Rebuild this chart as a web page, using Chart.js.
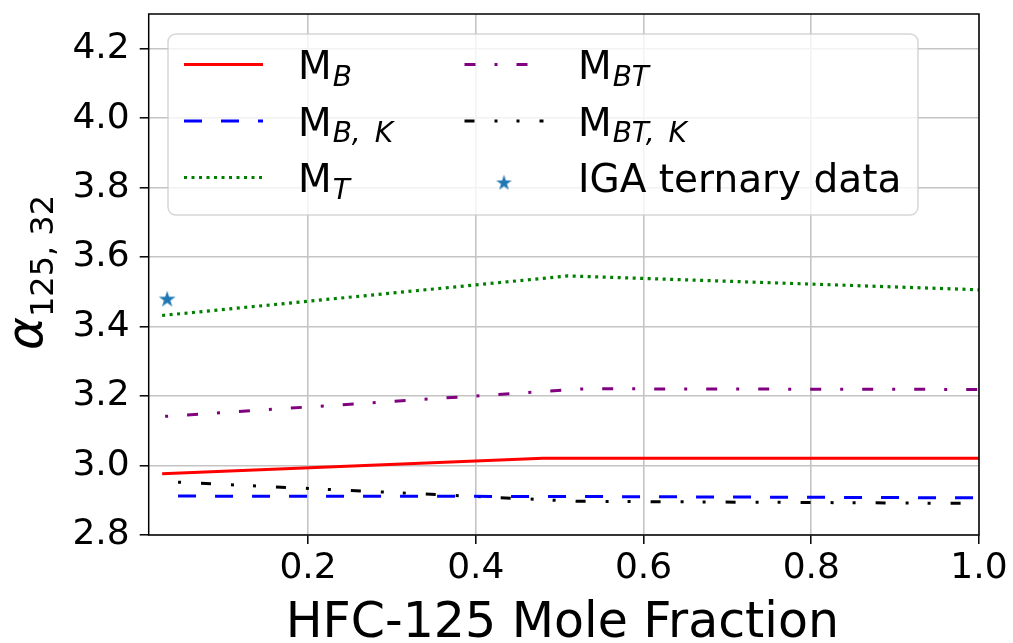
<!DOCTYPE html>
<html>
<head>
<meta charset="utf-8">
<script src="https://cdn.jsdelivr.net/npm/chart.js@4.4.0/dist/chart.umd.min.js"></script>
<style>
  body { margin: 0; background: #fff; }
  #wrap { width: 1013px; height: 643px; }
</style>
</head>
<body>
<div id="wrap"><canvas id="chart" width="1013" height="643"></canvas></div>
<script>
// values
const mbX = [0.026, 0.48, 1.0];
const mbY = [2.976, 3.021, 3.021];
const mbkX = [0.045, 0.50, 1.0];
const mbkY = [2.912, 2.911, 2.907];
const mtX = [0.026, 0.51, 1.0];
const mtY = [3.432, 3.546, 3.506];
const mbtX = [0.026, 0.53, 1.0];
const mbtY = [3.141, 3.221, 3.219];
const mbtkX = [0.045, 0.52, 1.0];
const mbtkY = [2.952, 2.897, 2.891];
const igaX = [0.032];
const igaY = [3.478];

const xTicks = [0.2, 0.4, 0.6, 0.8, 1.0];
const yTicks = [2.8, 3.0, 3.2, 3.4, 3.6, 3.8, 4.0, 4.2];

const FONT = '"DejaVu Sans", sans-serif';
Chart.defaults.font.family = FONT;

const pts = (xs, ys) => xs.map((x, i) => ({ x: x, y: ys[i] }));

function starImage(r, color) {
  const s = Math.ceil(r * 2 + 2);
  const c = document.createElement('canvas');
  c.width = s; c.height = s;
  const g = c.getContext('2d');
  g.fillStyle = color;
  g.beginPath();
  for (let i = 0; i < 10; i++) {
    const rad = i % 2 === 0 ? r : r * 0.382;
    const a = -Math.PI / 2 + i * Math.PI / 5;
    const px = s / 2 + rad * Math.cos(a), py = s / 2 + rad * Math.sin(a);
    if (i) g.lineTo(px, py); else g.moveTo(px, py);
  }
  g.closePath();
  g.fill();
  return c;
}

// sub = subscript pieces (split at the comma so the math spacing can be widened)
const series = [
  { sub: ['B'], color: '#ff0000', dash: [], offset: 0, width: 3, data: pts(mbX, mbY) },
  { sub: ['B,', 'K'], color: '#0000ff', dash: [18, 19], offset: 0, width: 3, data: pts(mbkX, mbkY) },
  { sub: ['T'], color: '#008000', dash: [3, 4.5], offset: 0, width: 3.2, data: pts(mtX, mtY) },
  { sub: ['BT'], color: '#800080', dash: [11, 19, 3, 19], offset: 27, width: 3, data: pts(mbtX, mbtY) },
  { sub: ['BT,', 'K'], color: '#000000', dash: [10, 20, 3, 19, 3, 20], offset: 52, width: 3, data: pts(mbtkX, mbtkY) },
];

const datasets = series.map(s => ({
  label: 'M_' + s.sub.join(' '),
  data: s.data,
  borderColor: s.color,
  borderWidth: s.width,
  borderDash: s.dash,
  borderDashOffset: s.offset,
  borderCapStyle: 'butt',
  pointRadius: 0,
  tension: 0,
  fill: false
}));
datasets.push({
  label: 'IGA ternary data',
  data: pts(igaX, igaY),
  showLine: false,
  pointStyle: starImage(8.8, '#1f77b4'),
  pointRadius: 9,
  borderWidth: 0
});

const decor = {
  id: 'decor',
  afterDatasetsDraw(chart) {
    const ctx = chart.ctx;
    const a = chart.chartArea;
    ctx.save();
    // spines
    ctx.strokeStyle = '#000';
    ctx.lineWidth = 1.5;
    ctx.setLineDash([]);
    ctx.strokeRect(a.left, a.top, a.right - a.left, a.bottom - a.top);

    // legend box
    ctx.beginPath();
    ctx.roundRect(168, 34, 750, 181, 8);
    ctx.fillStyle = 'rgba(255,255,255,0.8)';
    ctx.fill();
    ctx.strokeStyle = 'rgba(204,204,204,0.8)';
    ctx.lineWidth = 1.5;
    ctx.stroke();

    const rows = [64.5, 121, 177.5];
    const cols = [{ line: 184, text: 298 }, { line: 464.5, text: 578 }];
    series.forEach((s, i) => {
      const col = cols[i < 3 ? 0 : 1];
      const y = rows[i < 3 ? i : i - 3];
      ctx.beginPath();
      ctx.setLineDash(s.dash);
      ctx.lineDashOffset = 0;
      ctx.lineCap = 'butt';
      ctx.strokeStyle = s.color;
      ctx.lineWidth = s.width;
      ctx.moveTo(col.line, y);
      ctx.lineTo(col.line + 79, y);
      ctx.stroke();
      ctx.setLineDash([]);
      ctx.fillStyle = '#000';
      ctx.textBaseline = 'alphabetic';
      ctx.textAlign = 'left';
      ctx.font = '39px ' + FONT;
      ctx.fillText('M', col.text, y + 14.5);
      let x = col.text + ctx.measureText('M').width + 1;
      ctx.font = 'italic 28px ' + FONT;
      s.sub.forEach((piece, k) => {
        ctx.fillText(piece, x, y + 21);
        x += ctx.measureText(piece).width + (k < s.sub.length - 1 ? 14 : 0);
      });
    });
    const star = starImage(8.2, '#1f77b4');
    ctx.drawImage(star, 504 - star.width / 2, 183 - star.height / 2);
    ctx.font = '39px ' + FONT;
    ctx.fillStyle = '#000';
    ctx.fillText('IGA ternary data', 578, 192);

    // x axis title
    ctx.textAlign = 'center';
    ctx.font = '49px ' + FONT;
    ctx.fillText('HFC-125 Mole Fraction', (a.left + a.right) / 2 - 1.5, 637);

    // y axis title: alpha with subscript, rotated
    ctx.translate(42, (a.top + a.bottom) / 2 - 2);
    ctx.rotate(-Math.PI / 2);
    ctx.textAlign = 'left';
    ctx.font = 'italic 50px ' + FONT;
    const wA = ctx.measureText('α').width;
    ctx.font = '32px ' + FONT;
    const wS = ctx.measureText('125, 32').width;
    const x0 = -(wA + wS) / 2;
    ctx.font = 'italic 50px ' + FONT;
    ctx.fillText('α', x0, 0);
    ctx.font = '32px ' + FONT;
    ctx.fillText('125, 32', x0 + wA, 11);
    ctx.restore();
  }
};

const gridCfg = {
  color: '#c4c4c4',
  lineWidth: 1.6,
  drawTicks: true,
  tickLength: 9,
  tickColor: '#000',
  tickWidth: 1.5
};

new Chart(document.getElementById('chart'), {
  type: 'line',
  data: { datasets: datasets },
  options: {
    responsive: false,
    animation: false,
    events: [],
    layout: { padding: { left: 0, right: 34, top: 14, bottom: 0 } },
    plugins: { legend: { display: false }, tooltip: { enabled: false } },
    scales: {
      x: {
        type: 'linear',
        min: 0.01,
        max: 1.0,
        grid: gridCfg,
        border: { display: false },
        afterBuildTicks: s => { s.ticks = xTicks.map(v => ({ value: v })); },
        afterFit: s => { s.height = 108; s.paddingLeft = 0; s.paddingRight = 0; },
        ticks: {
          color: '#000',
          font: { size: 36 },
          padding: 3,
          maxRotation: 0,
          callback: v => v.toFixed(1)
        }
      },
      y: {
        type: 'linear',
        min: 2.8,
        max: 4.3,
        grid: gridCfg,
        border: { display: false },
        afterBuildTicks: s => { s.ticks = yTicks.map(v => ({ value: v })); },
        afterFit: s => { s.width = 148.7; s.paddingTop = 0; s.paddingBottom = 0; },
        ticks: {
          color: '#000',
          font: { size: 36 },
          padding: 10,
          callback: v => v.toFixed(1)
        }
      }
    }
  },
  plugins: [decor]
});
</script>
</body>
</html>
